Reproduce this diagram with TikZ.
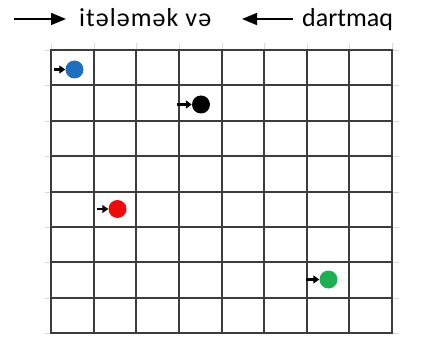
\documentclass[tikz,border=0pt]{standalone}
\usepackage{fontspec}
\setmainfont{Carlito}
\usetikzlibrary{arrows.meta}
\definecolor{ballblue}{RGB}{31,111,192}
\definecolor{ballgreen}{RGB}{30,176,80}
\definecolor{ballred}{RGB}{240,10,10}
\definecolor{gridc}{RGB}{60,60,60}
\begin{document}
\begin{tikzpicture}[x=1pt,y=-1pt,
  gridline/.style={gridc,line width=1.5pt},
  tick/.style={gray!30,line width=0.8pt},
  ball/.style={circle,inner sep=0pt,minimum size=18pt},
  push/.style={-{Triangle[length=6pt,width=8pt]},line width=2.6pt,black},
  legendarrow/.style={-{Triangle[length=15pt,width=12pt]},line width=1.6pt,black},
  legend/.style={anchor=base west,inner sep=0pt,font=\fontsize{26}{30}\selectfont}]
\useasboundingbox (0,0) rectangle (421,337);
% faint ticks outside grid
\foreach \x in {51,94,136,179,222,264,307,349,392}
  \draw[tick] (\x,43) -- (\x,49);
\foreach \y in {50,85,121,156,192,227,262,298,333} {
  \draw[tick] (393,\y) -- (399,\y);
  \draw[tick] (45,\y) -- (50,\y);
}
% grid
\foreach \x in {94,136,179,222,264,307,349}
  \draw[gridline] (\x,50) -- (\x,333);
\foreach \y in {85,121,156,192,227,262,298}
  \draw[gridline] (51,\y) -- (392,\y);
\draw[gridline] (51,50) rectangle (392,333);
% legend
\coordinate (la1) at (14,19);
\coordinate (la2) at (66,19);
\draw[legendarrow] (la1) -- (la2);
\node[legend] (t1) at (79,27) {\addfontfeature{LetterSpace=4}itələmək və};
\coordinate (lb1) at (293,19);
\coordinate (lb2) at (242,19);
\draw[legendarrow] (lb1) -- (lb2);
\node[legend] (t2) at (302,27) {dartmaq};
% balls
\node[ball,fill=ballblue] (b1) at (74.5,69.5) {};
\node[ball,fill=black] (b2) at (201,104.5) {};
\node[ball,fill=ballred] (b3) at (117.5,209) {};
\node[ball,fill=ballgreen] (b4) at (328.5,279.5) {};
\coordinate (p1) at (54,69.5);
\coordinate (p2) at (176.5,104.5);
\coordinate (p3) at (97,209);
\coordinate (p4) at (306,279.5);
\draw[push] (p1) -- (b1.west);
\draw[push] (p2) -- (b2.west);
\draw[push] (p3) -- (b3.west);
\draw[push] (p4) -- (b4.west);
\end{tikzpicture}
\end{document}
